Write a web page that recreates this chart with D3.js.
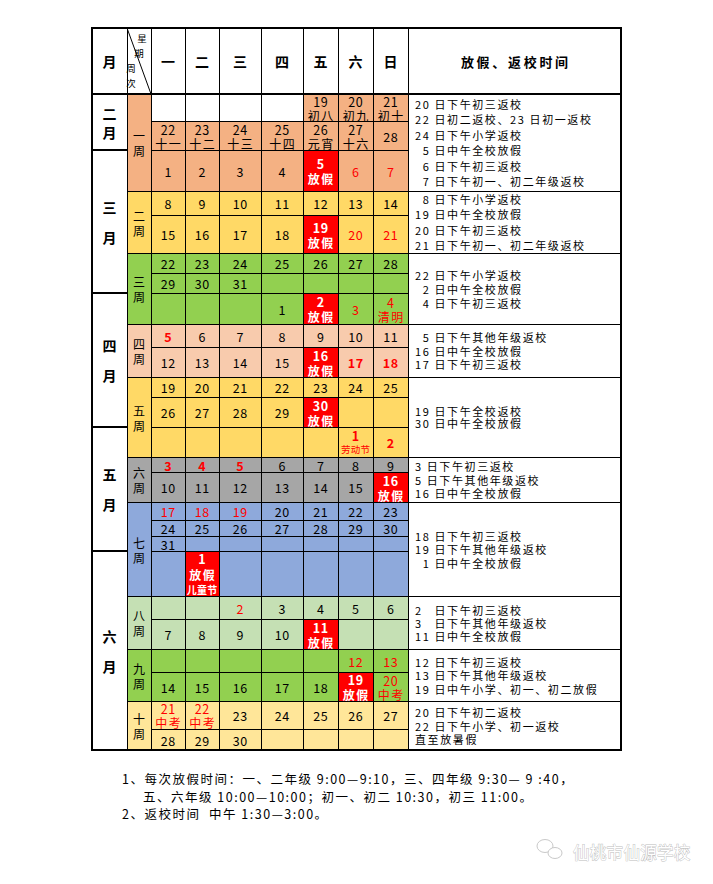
<!DOCTYPE html>
<html><head><meta charset="utf-8">
<script src="https://cdn.jsdelivr.net/npm/d3@7"></script>
<style>body{margin:0;background:#fff}svg{display:block}</style>
</head><body>
<svg id="c" width="713" height="884"></svg>
<script>
// ---------------- DATA ----------------
const weekdays = ["一","二","三","四","五","六","日"];
const months = ["二月","三月","四月","五月","六月"];
const monthRowSpans = [2,5,5,6,7];
const weeks = ["一周","二周","三周","四周","五周","六周","七周","八周","九周","十周"];
const weekRowSpans = [3,2,3,2,3,2,4,2,2,2];
// cell codes: "!" holiday (red cell), "R" bold red, "r" red, "w" white blank, "|" line break
const calendarRows = [
  ["w","w","w","w","19|初八","20|初九","21|初十"],
  ["22|十一","23|十二","24|十三","25|十四","26|元宵","27|十六","28"],
  ["1","2","3","4","!5|放假","r6","r7"],
  ["8","9","10","11","12","13","14"],
  ["15","16","17","18","!19|放假","r20","r21"],
  ["22","23","24","25","26","27","28"],
  ["29","30","31","","","",""],
  ["","","","1","!2|放假","r3","r4|清明"],
  ["R5","6","7","8","9","10","11"],
  ["12","13","14","15","!16|放假","R17","R18"],
  ["19","20","21","22","23","24","25"],
  ["26","27","28","29","!30|放假","",""],
  ["","","","","","R1|劳动节","R2"],
  ["R3","R4","R5","6","7","8","9"],
  ["10","11","12","13","14","15","!16|放假"],
  ["r17","r18","r19","20","21","22","23"],
  ["24","25","26","27","28","29","30"],
  ["31","","","","","",""],
  ["","!1|放假|儿童节","","","","",""],
  ["","","r2","3","4","5","6"],
  ["7","8","9","10","!11|放假","",""],
  ["","","","","","r12","r13"],
  ["14","15","16","17","18","!19|放假","r20|中考"],
  ["r21|中考","r22|中考","23","24","25","26","27"],
  ["28","29","30","","","",""]
];
const weekNotes = [
  ["20 日下午初三返校","22 日初二返校、23 日初一返校","24 日下午小学返校","\u20075 日中午全校放假","\u20076 日下午初三返校","\u20077 日下午初一、初二年级返校"],
  ["\u20078 日下午小学返校","19 日中午全校放假","20 日下午初三返校","21 日下午初一、初二年级返校"],
  ["22 日下午小学返校","\u20072 日中午全校放假","\u20074 日下午初三返校"],
  ["\u20075 日下午其他年级返校","16 日中午全校放假","17 日下午初三返校"],
  ["19 日下午全校返校","30 日中午全校放假"],
  ["3 日下午初三返校","5 日下午其他年级返校","16 日中午全校放假"],
  ["18 日下午初三返校","19 日下午其他年级返校","\u20071 日中午全校放假"],
  ["2\u2007 日下午初三返校","3\u2007 日下午其他年级返校","11 日中午全校放假"],
  ["12 日下午初三返校","13 日下午其他年级返校","19 日中午小学、初一、初二放假"],
  ["20 日下午初二返校","22 日下午小学、初一返校","直至放暑假"]
];
const headerMonth = "月";
const headerCorner = ["星","期","周","次"];
const headerNotes = "放假、返校时间";
const footnotes = [
  "1、每次放假时间：一、二年级 9:00—9:10，三、四年级 9:30— 9 :40，",
  "五、六年级 10:00—10:00；初一、初二 10:30，初三 11:00。",
  "2、返校时间  中午 1:30—3:00。"
];
const watermark = "仙桃市仙源学校";

// ---------------- LAYOUT / STYLE ----------------
const weekColors = ["#F4B183","#FFD966","#92D050","#F8CBAD","#FFD966","#A6A6A6","#8EA9DB","#C5E0B4","#92D050","#FFE699"];
const RED = "#FF0000";
const FONT = "'Noto Sans CJK SC','Noto Sans',sans-serif";
const tLeft = 92, tTop = 28, headerBottom = 94;
const colWidths = [35,24,34,34,42,42,35,35,35,213];
const rowHeights = [27,29,41,24,38,20,20,31,23,30,20,30,30,15,30,18,16,15,45,23,30,23,29,28,21];
const noteGaps = [15.5,15.5,14,13.5,12.5,13.3,13.5,13,13.5,13.5];

const colX = [tLeft, ...Array.from(d3.cumsum(colWidths), w => tLeft + w)];
const rowY = [headerBottom, ...Array.from(d3.cumsum(rowHeights), h => headerBottom + h)];
const tRight = colX[colX.length - 1];
const tBottom = rowY[rowY.length - 1];
const monthStart = [0, ...d3.cumsum(monthRowSpans)];
const weekStart = [0, ...d3.cumsum(weekRowSpans)];
const weekOfRow = d3.range(rowHeights.length).map(r => d3.bisectRight(weekStart, r) - 1);

const svg = d3.select("#c");
svg.append("rect").attr("width",713).attr("height",884).attr("fill","#fff");

const gFill = svg.append("g").attr("shape-rendering","crispEdges");
const gLines = svg.append("g");
const gText = svg.append("g").attr("font-family", FONT);

function cellRect(x0,y0,x1,y1,fill){
  gFill.append("rect").attr("x",x0+0.5).attr("y",y0+0.5)
    .attr("width",x1-x0).attr("height",y1-y0)
    .attr("fill",fill).attr("stroke","#000").attr("stroke-width",1);
}

for (let c = 0; c < colX.length - 1; c++) cellRect(colX[c], tTop, colX[c+1], headerBottom, "#fff");
months.forEach((m,i) => cellRect(colX[0], rowY[monthStart[i]], colX[1], rowY[monthStart[i+1]], "#fff"));
weeks.forEach((w,i) => {
  cellRect(colX[1], rowY[weekStart[i]], colX[2], rowY[weekStart[i+1]], weekColors[i]);
  cellRect(colX[9], rowY[weekStart[i]], colX[10], rowY[weekStart[i+1]], "#fff");
});

function parseCell(s){
  if (s === "w") return {type:"blank", lines:[]};
  let type = "n";
  if (s[0] === "!") { type = "hol"; s = s.slice(1); }
  else if (s[0] === "R") { type = "boldred"; s = s.slice(1); }
  else if (s[0] === "r") { type = "red"; s = s.slice(1); }
  return {type, lines: s === "" ? [] : s.split("|")};
}
const cells = [];
calendarRows.forEach((row, r) => row.forEach((code, c) => cells.push({r, c, ...parseCell(code)})));

cells.forEach(d => {
  const fill = d.type === "blank" ? "#fff" : d.type === "hol" ? RED : weekColors[weekOfRow[d.r]];
  cellRect(colX[d.c+2], rowY[d.r], colX[d.c+3], rowY[d.r+1], fill);
});

gLines.append("line").attr("x1",colX[1]).attr("y1",tTop).attr("x2",colX[2]).attr("y2",headerBottom)
  .attr("stroke","#000").attr("stroke-width",1);
gLines.append("rect").attr("x",tLeft).attr("y",tTop).attr("width",tRight-tLeft).attr("height",tBottom-tTop)
  .attr("fill","none").attr("stroke","#000").attr("stroke-width",2).attr("shape-rendering","crispEdges");
gLines.append("line").attr("x1",tLeft).attr("x2",tRight).attr("y1",headerBottom).attr("y2",headerBottom)
  .attr("stroke","#000").attr("stroke-width",2).attr("shape-rendering","crispEdges");
monthStart.slice(1,-1).forEach(s => {
  gLines.append("line").attr("x1",tLeft).attr("x2",colX[1]).attr("y1",rowY[s]).attr("y2",rowY[s])
    .attr("stroke","#000").attr("stroke-width",2).attr("shape-rendering","crispEdges");
});

// multi-line text: one <text> per block, one <tspan> per line
function block(x, cy, gap, items, anchor){
  anchor = anchor || "middle";
  const n = items.length;
  const t = gText.append("text").attr("text-anchor", anchor)
    .attr("dominant-baseline","central").style("white-space","pre");
  items.forEach((it,k) => {
    const ls = it.ls || 0;
    t.append("tspan")
      .attr("x", x + (anchor === "middle" ? ls/2 : 0))
      .attr("y", cy + (k - (n-1)/2) * gap)
      .attr("dominant-baseline","central")
      .attr("font-size", it.size || 12).attr("font-weight", it.weight || 400)
      .attr("letter-spacing", ls).attr("fill", it.fill || "#000")
      .text(it.s);
  });
  return t;
}

// header texts
const hy = (tTop + headerBottom)/2;
block((colX[0]+colX[1])/2, hy, 0, [{s:headerMonth, size:14, weight:700}]);
weekdays.forEach((w,i) => block((colX[i+2]+colX[i+3])/2, hy, 0, [{s:w, size:14, weight:700}]));
block((colX[9]+colX[10])/2, hy, 0, [{s:headerNotes, size:13, weight:700, ls:2.7}]);
const cornerPos = [[15,10],[12,25],[4,40],[4,55]];
headerCorner.forEach((ch,i) => block(colX[1]+cornerPos[i][0], tTop+cornerPos[i][1], 0, [{s:ch, size:9.5}]));

// month labels
months.forEach((m,i) => {
  const cy = (rowY[monthStart[i]] + rowY[monthStart[i+1]])/2;
  const gap = monthRowSpans[i] <= 2 ? 19 : 30;
  block((colX[0]+colX[1])/2, cy, gap, m.split("").map(ch => ({s:ch, size:14, weight:700})));
});
// week labels
weeks.forEach((w,i) => {
  const cy = (rowY[weekStart[i]] + rowY[weekStart[i+1]])/2;
  block((colX[1]+colX[2])/2, cy, 15, w.split("").map(ch => ({s:ch, size:12})));
});

// calendar cell texts
cells.forEach(d => {
  if (!d.lines.length) return;
  const cx = (colX[d.c+2]+colX[d.c+3])/2;
  const cy = (rowY[d.r]+rowY[d.r+1])/2;
  const n = d.lines.length;
  const gap = n === 3 ? 15.5 : (d.type === "hol" ? 15 : 14);
  const items = d.lines.map((s,k) => {
    const isNum = k === 0;
    const it = {s, size: isNum ? 12.5 : (s.length >= 3 ? 9.5 : 12),
                ls: isNum ? 0.6 : (s.length >= 3 ? 0.3 : 1.5), fill:"#000", weight:400};
    if (d.type === "hol") { it.fill = "#fff"; it.weight = 700; if (!isNum && s.length >= 3) it.size = 10; }
    else if (d.type === "boldred") { it.fill = RED; it.weight = isNum ? 700 : 400; }
    else if (d.type === "red") { it.fill = RED; }
    return it;
  });
  block(cx, cy, gap, items);
});

// notes
weekNotes.forEach((lines,i) => {
  const cy = (rowY[weekStart[i]] + rowY[weekStart[i+1]])/2;
  block(colX[9] + 7, cy, noteGaps[i], lines.map(s => ({s, size:11, ls:1.6})), "start");
});

// footnotes
const footX = [122, 143, 122];
const footY = [tBottom + 28, tBottom + 46, tBottom + 63];
footnotes.forEach((s,i) => block(footX[i], footY[i], 0, [{s, size:12.5, ls:1.5}], "start"));

// watermark
const wm = svg.append("g").attr("fill","none").attr("stroke","#c9c9c9").attr("stroke-width",1);
wm.append("ellipse").attr("cx",545).attr("cy",846).attr("rx",8).attr("ry",6.5);
wm.append("ellipse").attr("cx",555).attr("cy",853).attr("rx",7).attr("ry",5.5).attr("fill","#fff");
svg.append("text").attr("x",573).attr("y",852).attr("dominant-baseline","central")
  .attr("font-family",FONT).attr("font-size",16.5).attr("letter-spacing",0.3)
  .attr("fill","#fff").attr("stroke","#bdbdbd").attr("stroke-width",0.9)
  .attr("paint-order","stroke").text(watermark);
</script>
</body></html>
